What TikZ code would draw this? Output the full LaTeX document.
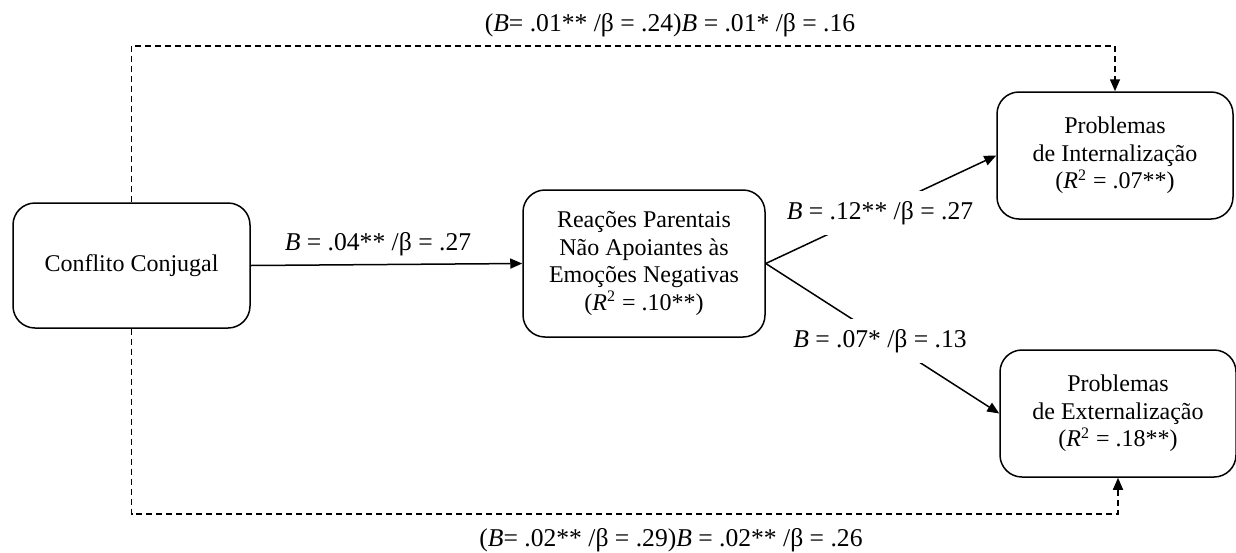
\documentclass[tikz,border=0pt]{standalone}
\usepackage{fontspec}
\setmainfont{Liberation Serif}
\usetikzlibrary{arrows.meta, positioning, calc}

\begin{document}
\begin{tikzpicture}[
    x=0.5pt, y=-0.5pt,
    box style/.style={
        draw,
        rounded corners=11pt,
        line width=0.75pt,
        align=center,
        inner sep=2pt,
        font=\fontsize{12}{13.8}\selectfont
    },
    arrow style/.style={
        line width=0.75pt,
        -{Triangle[length=6pt,width=5pt]}
    },
    dash style/.style={
        arrow style,
        dash pattern=on 3pt off 2pt
    },
    label style/.style={
        font=\fontsize{12.8}{14}\selectfont
    },
    cut label/.style={
        label style,
        fill=white,
        inner xsep=1pt,
        inner ysep=5pt
    }
]

% Frame
\useasboundingbox (0,0) rectangle (1236,552);

% Boxes
\node[box style, minimum width=118.5pt, minimum height=62.5pt] (C) at (131.5,265.5) {Conflito Conjugal};
\node[box style, minimum width=121pt, minimum height=73.5pt] (M) at (644,263.5)
    {Reações Parentais\\Não Apoiantes às\\Emoções Negativas\\(\textit{R}\textsuperscript{2} = .10**)};
\node[box style, minimum width=118pt, minimum height=63.5pt] (I) at (1115,155.5)
    {Problemas\\de Internalização\\(\textit{R}\textsuperscript{2} = .07**)};
\node[box style, minimum width=118pt, minimum height=63.5pt] (E) at (1118,413.5)
    {Problemas\\de Externalização\\(\textit{R}\textsuperscript{2} = .18**)};

% Bend points of the direct paths
\coordinate (top) at (131.5,46);
\coordinate (bottom) at (131.5,514);

% Indirect paths
\draw[arrow style] (C.east) -- (M.west);
\draw[arrow style] (M.east) -- (I.west);
\draw[arrow style] (M.east) -- (E.west);

% Direct paths (dashed)
\draw[dash style] (C.north) -- (top) -| (I.north);
\draw[dash style] (C.south) -- (bottom) -| (E.south);

% Coefficients
\node[label style] (lCM) at (378,244) {\textit{B} = .04** /β = .27};
\node[cut label] (lMI) at (880,213) {\textit{B} = .12** /β = .27};
\node[cut label] (lME) at (880,341) {\textit{B} = .07* /β = .13};
\node[label style] (lCI) at (670,25) {(\textit{B}= .01** /β = .24)\textit{B} = .01* /β = .16};
\node[label style] (lCE) at (671,540) {(\textit{B}= .02** /β = .29)\textit{B} = .02** /β = .26};

\end{tikzpicture}
\end{document}
